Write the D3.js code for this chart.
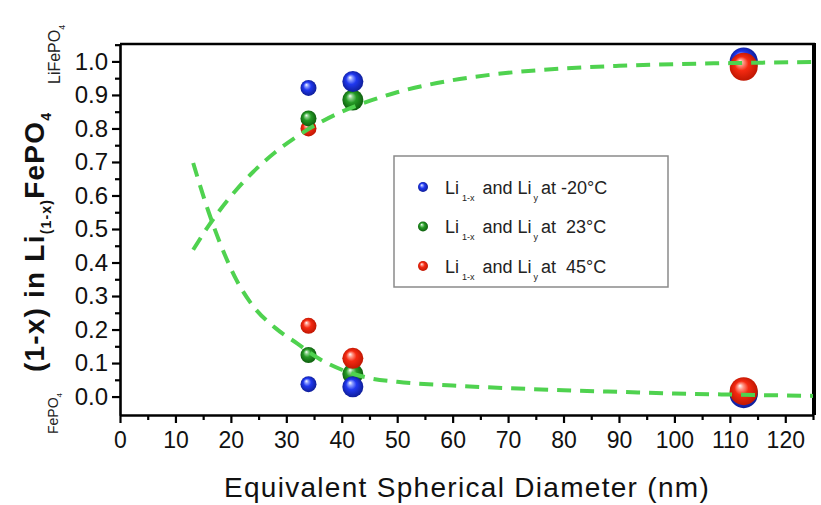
<!DOCTYPE html>
<html>
<head>
<meta charset="utf-8">
<script src="https://cdn.jsdelivr.net/npm/d3@7"></script>
<style>
  html, body { margin: 0; padding: 0; background: #fff; }
  svg { display: block; font-family: Arial, "Liberation Sans", sans-serif; }
</style>
</head>
<body>
<svg id="chart" width="821" height="505"></svg>
<script>
// Particle diameters (nm) at which phase fractions were measured
const diameters = [34, 42, 112.5];

// Li-rich branch (LiFePO4 side) and Li-poor branch (FePO4 side) per temperature
const upperM20 = [0.921, 0.940, 1.000];
const lowerM20 = [0.037, 0.029, 0.007];
const upper23  = [0.830, 0.885, 0.995];
const lower23  = [0.124, 0.067, 0.011];
const upper45  = [0.800, null, 0.984];
const lower45  = [0.211, 0.114, 0.016];

const seriesNames = ["-20°C", " 23°C", " 45°C"];

// Guide curves for the two solubility limits
const fitX     = [13.2, 16, 18, 21, 24, 28, 32, 36, 40, 45, 50, 60, 70, 80, 90, 100, 110, 125];
const fitUpper = [0.438, 0.51, 0.556, 0.617, 0.67, 0.729, 0.777, 0.817, 0.85, 0.882, 0.908, 0.944, 0.966, 0.979, 0.987, 0.992, 0.995, 0.998];
const fitLower = [0.697, 0.55, 0.46, 0.348, 0.27, 0.205, 0.158, 0.112, 0.08, 0.055, 0.044, 0.033, 0.025, 0.019, 0.014, 0.009, 0.006, 0.002];

// Axis ticks
const xTicks = d3.range(0, 121, 10);
const xMinor = d3.range(5, 126, 10);
const yTicks = d3.range(0, 11).map(i => i / 10);
const yMinor = d3.range(0, 11).map(i => i / 10 + 0.05);

const svg = d3.select("#chart");
const x = d3.scaleLinear([0, 125], [120, 813]);
const y = d3.scaleLinear([-0.055, 1.052], [415, 44]);

// Sphere shading
const palette = [
  { id: "gBlue",  light: "#8fa0ff", main: "#2038f0", dark: "#0c1a8c" },
  { id: "gGreen", light: "#8fd48f", main: "#259a25", dark: "#0b560b" },
  { id: "gRed",   light: "#ff9a8a", main: "#f52a12", dark: "#b81400" }
];
const defs = svg.append("defs");
palette.forEach(p => {
  const g = defs.append("radialGradient").attr("id", p.id)
    .attr("cx", 0.5).attr("cy", 0.5).attr("r", 0.55)
    .attr("fx", 0.36).attr("fy", 0.3);
  g.append("stop").attr("offset", "0%").attr("stop-color", "#ffffff");
  g.append("stop").attr("offset", "18%").attr("stop-color", p.light);
  g.append("stop").attr("offset", "45%").attr("stop-color", p.main);
  g.append("stop").attr("offset", "100%").attr("stop-color", p.dark);
});

// Frame: top and right borders
svg.append("line").attr("x1", x(0)).attr("x2", x(125) + 2)
  .attr("y1", y(1.052)).attr("y2", y(1.052))
  .attr("stroke", "#000").attr("stroke-width", 2.5);
svg.append("line").attr("x1", x(125) + 1).attr("x2", x(125) + 1)
  .attr("y1", y(1.052) - 1).attr("y2", y(-0.055))
  .attr("stroke", "#000").attr("stroke-width", 4);

// X axis
const gx = svg.append("g").attr("transform", `translate(0,${y(-0.055)})`);
gx.call(d3.axisBottom(x).tickValues(xTicks).tickSize(8).tickSizeOuter(0).tickPadding(9));
gx.append("g").call(d3.axisBottom(x).tickValues(xMinor).tickSize(5).tickSizeOuter(0).tickFormat(""))
  .select(".domain").remove();
gx.selectAll("path, line").attr("stroke", "#000").attr("stroke-width", 2.2);
gx.select(".domain").attr("stroke-width", 2.6);
gx.selectAll("text").attr("font-size", 23).attr("fill", "#111");

// Y axis
const gy = svg.append("g").attr("transform", `translate(${x(0)},0)`);
gy.call(d3.axisLeft(y).tickValues(yTicks).tickSize(8).tickSizeOuter(0).tickPadding(4).tickFormat(d3.format(".1f")));
gy.append("g").call(d3.axisLeft(y).tickValues(yMinor).tickSize(5).tickSizeOuter(0).tickFormat(""))
  .select(".domain").remove();
gy.selectAll("path, line").attr("stroke", "#000").attr("stroke-width", 2.2);
gy.select(".domain").attr("stroke-width", 2.6);
gy.selectAll("text").attr("font-size", 24).attr("fill", "#111");

// Data spheres; stacking order differs per diameter so overlapping spheres layer correctly
const radius = [8, 10.5, 14];
const stackOrder = [[0, 2, 1], [1, 0, 2], [1, 0, 2]]; // series index, back to front
const groups = [
  { up: upperM20, low: lowerM20, grad: "gBlue" },
  { up: upper23,  low: lower23,  grad: "gGreen" },
  { up: upper45,  low: lower45,  grad: "gRed" }
];
const spheres = [];
diameters.forEach((d, i) => {
  stackOrder[i].forEach(si => {
    const s = groups[si];
    [s.up[i], s.low[i]].forEach(v => {
      if (v !== null) spheres.push({ d, v, r: radius[i], grad: s.grad });
    });
  });
});
svg.append("g").selectAll("circle").data(spheres).join("circle")
  .attr("cx", p => x(p.d)).attr("cy", p => y(p.v)).attr("r", p => p.r)
  .attr("fill", p => `url(#${p.grad})`);

// Dashed guide curves
const line = d3.line().x(d => x(d[0])).y(d => y(d[1])).curve(d3.curveMonotoneX);
[fitUpper, fitLower].forEach(vals => {
  svg.append("path").datum(fitX.map((v, i) => [v, vals[i]]))
    .attr("d", line).attr("fill", "none")
    .attr("stroke", "#4fd24f").attr("stroke-width", 4)
    .attr("stroke-dasharray", "14,9");
});

// Legend
const lg = svg.append("g");
lg.append("rect").attr("x", 394).attr("y", 156).attr("width", 274).attr("height", 131)
  .attr("fill", "#fff").attr("stroke", "#8a8a8a").attr("stroke-width", 1.5);
palette.forEach((p, i) => {
  const cy = 187 + i * 39.5;
  lg.append("circle").attr("cx", 423).attr("cy", cy).attr("r", 5).attr("fill", `url(#${p.id})`);
  const t = lg.append("text").attr("x", 445).attr("y", cy + 6.5)
    .attr("font-size", 18).attr("fill", "#222").style("white-space", "pre");
  t.append("tspan").text("Li");
  t.append("tspan").attr("font-size", 9).attr("dy", 7).attr("dx", 3).text("1-x");
  t.append("tspan").attr("dy", -7).attr("dx", 8).text("and Li");
  t.append("tspan").attr("font-size", 9).attr("dy", 7).attr("dx", 2).text("y");
  t.append("tspan").attr("dy", -7).attr("dx", 3).text("at " + seriesNames[i]);
});

// X axis title
svg.append("text").attr("x", 467).attr("y", 497).attr("text-anchor", "middle")
  .attr("font-size", 28).attr("letter-spacing", 1.3).attr("fill", "#111")
  .text("Equivalent Spherical Diameter (nm)");

// Y axis title with end-member labels
const yt = svg.append("text").attr("transform", "translate(44,372) rotate(-90)")
  .attr("font-size", 28).attr("font-weight", "bold").attr("letter-spacing", 1.2).attr("fill", "#111");
yt.append("tspan").text("(1-x) in Li");
yt.append("tspan").attr("font-size", 14).attr("dy", 7).text("(1-x)");
yt.append("tspan").attr("dy", -7).text("FePO");
yt.append("tspan").attr("font-size", 14).attr("dy", 7).text("4");

const ylo = svg.append("text").attr("transform", "translate(58,434) rotate(-90)")
  .attr("font-size", 14).attr("fill", "#222");
ylo.append("tspan").text("FePO");
ylo.append("tspan").attr("font-size", 8).attr("dy", 4).text("4");

const yhi = svg.append("text").attr("transform", "translate(60,84) rotate(-90)")
  .attr("font-size", 16).attr("fill", "#222");
yhi.append("tspan").text("LiFePO");
yhi.append("tspan").attr("font-size", 9).attr("dy", 5).text("4");
</script>
</body>
</html>
